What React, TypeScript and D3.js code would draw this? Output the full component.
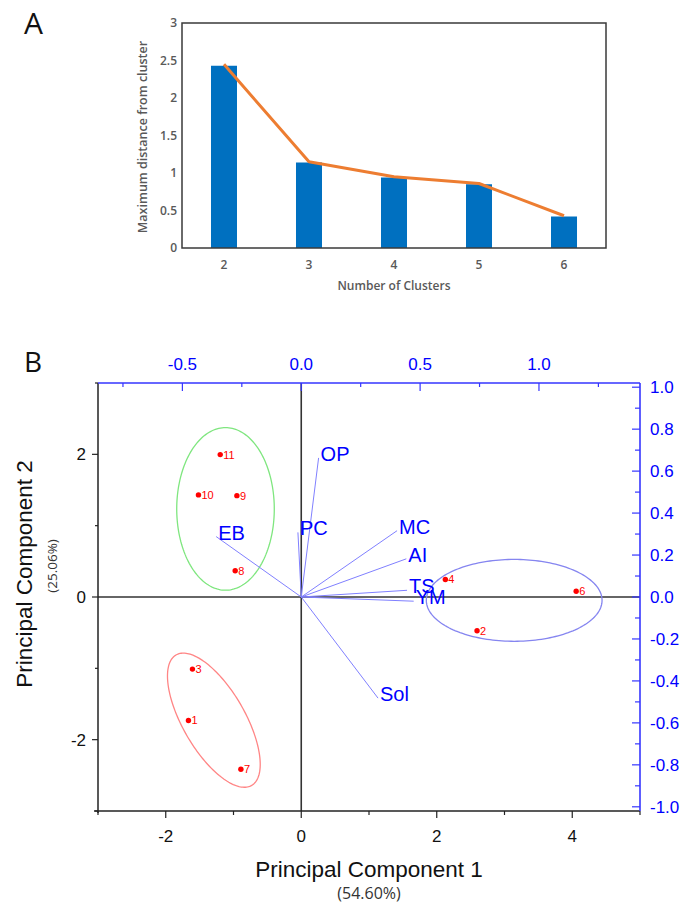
import React from "react";
import * as d3 from "d3";

// ---------- Panel A data ----------
const clusterCounts = ["2", "3", "4", "5", "6"];
const maxDistance = [2.43, 1.14, 0.94, 0.85, 0.42];
const trendValues = [2.45, 1.15, 0.95, 0.86, 0.43];
const distanceTicks = [0, 0.5, 1, 1.5, 2, 2.5, 3];

// ---------- Panel B data ----------
const sampleIds = ["1", "2", "3", "4", "6", "7", "8", "9", "10", "11"];
const pc1Scores = [-1.665, 2.595, -1.606, 2.127, 4.058, -0.891, -0.975, -0.95, -1.517, -1.196];
const pc2Scores = [-1.731, -0.474, -1.011, 0.246, 0.08, -2.414, 0.367, 1.421, 1.431, 1.996];

const variableNames = ["OP", "PC", "EB", "MC", "AI", "TS", "YM", "Sol"];
const loadingPC1 = [0.073, -0.014, -0.358, 0.403, 0.442, 0.445, 0.473, 0.323];
const loadingPC2 = [0.663, 0.308, 0.288, 0.316, 0.182, 0.032, -0.02, -0.482];

// cluster ellipses: centre, and two conjugate semi-axis vectors (score units)
const ellipseColors = ["#7fe67f", "#8585f0", "#ff8585"];
const ellipseCenterX = [-1.118, 3.143, -1.29];
const ellipseCenterY = [1.235, -0.047, -1.727];
const ellipseAxisA = [[0.72, 0], [1.297, 0], [0.559, -0.914]];
const ellipseAxisB = [[0, 1.14], [0, 0.574], [-0.395, -0.221]];

const scoreXMajor = [-2, 0, 2, 4];
const scoreXMinor = [-3, -1, 1, 3, 5];
const scoreYMajor = [-2, 0, 2];
const scoreYMinor = [-3, -1, 1, 3];
const loadXMajor = [-0.5, 0, 0.5, 1.0];
const loadXMinor = [-0.75, -0.25, 0.25, 0.75, 1.25];
const loadYMajor = [-1, -0.8, -0.6, -0.4, -0.2, 0, 0.2, 0.4, 0.6, 0.8, 1.0];
const loadYMinor = [-0.9, -0.7, -0.5, -0.3, -0.1, 0.1, 0.3, 0.5, 0.7, 0.9];

const fmt1 = (v: number) => (Math.abs(v) < 1e-9 ? 0 : v).toFixed(1);

export default function App() {
  // ----- Panel A -----
  const aL = 182, aR = 606, aT = 23, aB = 248;
  const xA = d3.scaleBand<string>().domain(clusterCounts).range([aL, aR]).paddingInner(0.694).paddingOuter(0.341);
  const yA = d3.scaleLinear().domain([0, 3]).range([aB, aT]);
  const lineA = d3
    .line<number>()
    .x((_, i) => (xA(clusterCounts[i]) as number) + xA.bandwidth() / 2)
    .y((d) => yA(d));
  const gA = "#595959";
  const fontA = "'Open Sans', 'Noto Sans', sans-serif";

  // ----- Panel B -----
  const bL = 98, bR = 640, bT = 383, bB = 811;
  const xS = d3.scaleLinear().domain([-3, 5]).range([bL, bR]);
  const yS = d3.scaleLinear().domain([-3, 3]).range([bB, bT]);
  const xL = d3.scaleLinear().domain([-0.855, 1.425]).range([bL, bR]);
  const yL = d3.scaleLinear().domain([-1.02, 1.02]).range([bB, bT]);
  const arial = "'Liberation Sans', Arial, sans-serif";
  const blueAxis = "#3535ff";
  const blueText = "#0000ff";

  const ellipsePath = (k: number) => {
    const ts = d3.range(0, 2 * Math.PI + 0.001, Math.PI / 90);
    const ln = d3
      .line<number>()
      .x((t) => xS(ellipseCenterX[k] + Math.cos(t) * ellipseAxisA[k][0] + Math.sin(t) * ellipseAxisB[k][0]))
      .y((t) => yS(ellipseCenterY[k] + Math.cos(t) * ellipseAxisA[k][1] + Math.sin(t) * ellipseAxisB[k][1]))
      .curve(d3.curveLinearClosed);
    return ln(ts) as string;
  };

  return (
    <svg width={693} height={912} style={{ position: "absolute", left: 0, top: 0, background: "#fff" }}>
      {/* ================= Panel A ================= */}
      <text x={24} y={34} fontFamily={fontA} fontSize={30} fill="#111">A</text>
      {clusterCounts.map((c, i) => (
        <rect key={c} x={xA(c)} y={yA(maxDistance[i])} width={xA.bandwidth()} height={aB - yA(maxDistance[i])} fill="#0070C0" />
      ))}
      <path d={lineA(trendValues) as string} fill="none" stroke="#ED7D31" strokeWidth={3} strokeLinejoin="round" />
      <rect x={aL} y={aT} width={aR - aL} height={aB - aT} fill="none" stroke="#3a3a3a" strokeWidth={1.5} />
      {distanceTicks.map((t) => (
        <text key={t} x={177} y={yA(t)} dy="0.35em" textAnchor="end" fontFamily={fontA} fontWeight={600} fontSize={12} fill={gA}>
          {t}
        </text>
      ))}
      {clusterCounts.map((c) => (
        <text key={c} x={(xA(c) as number) + xA.bandwidth() / 2} y={269} textAnchor="middle" fontFamily={fontA} fontWeight={600} fontSize={12} fill={gA}>
          {c}
        </text>
      ))}
      <text x={394} y={290} textAnchor="middle" fontFamily={fontA} fontWeight={600} fontSize={12} fill={gA}>
        Number of Clusters
      </text>
      <text transform={`translate(147,137) rotate(-90)`} textAnchor="middle" fontFamily={fontA} fontWeight={600} fontSize={12.5} fill={gA}>
        Maximum distance from cluster
      </text>

      {/* ================= Panel B ================= */}
      <text x={24} y={372} fontFamily={fontA} fontSize={28} fill="#111">B</text>

      {/* zero lines */}
      <line x1={bL} x2={bR} y1={yS(0)} y2={yS(0)} stroke="#333" strokeWidth={1.6} />
      <line x1={xS(0)} x2={xS(0)} y1={bT} y2={bB} stroke="#333" strokeWidth={1.6} />

      {/* ellipses */}
      {ellipseColors.map((c, k) => (
        <path key={k} d={ellipsePath(k)} fill="none" stroke={c} strokeWidth={1.3} />
      ))}

      {/* loading vectors */}
      {variableNames.map((v, i) => (
        <line key={v} x1={xL(0)} y1={yL(0)} x2={xL(loadingPC1[i])} y2={yL(loadingPC2[i])} stroke="#8080ff" strokeWidth={1} />
      ))}
      {variableNames.map((v, i) => (
        <text key={v} x={xL(loadingPC1[i]) + 2} y={yL(loadingPC2[i]) + 3} fontFamily={arial} fontSize={20} fill={blueText}>
          {v}
        </text>
      ))}

      {/* score points */}
      {sampleIds.map((s, i) => (
        <g key={s}>
          <circle cx={xS(pc1Scores[i])} cy={yS(pc2Scores[i])} r={2.7} fill="#ff0000" />
          <text x={xS(pc1Scores[i]) + 3} y={yS(pc2Scores[i])} dy="0.36em" fontFamily={arial} fontSize={11} fill="#ff0000">
            {s}
          </text>
        </g>
      ))}

      {/* left axis */}
      <line x1={bL} x2={bL} y1={bT} y2={bB + 2} stroke="#222" strokeWidth={1.5} />
      {scoreYMajor.map((t) => (
        <g key={t}>
          <line x1={bL - 6} x2={bL} y1={yS(t)} y2={yS(t)} stroke="#222" strokeWidth={1.2} />
          <text x={86} y={yS(t)} dy="0.35em" textAnchor="end" fontFamily={arial} fontSize={17} fill="#111">
            {t}
          </text>
        </g>
      ))}
      {scoreYMinor.map((t) => (
        <line key={t} x1={bL - 3} x2={bL} y1={yS(t)} y2={yS(t)} stroke="#222" strokeWidth={1.2} />
      ))}

      {/* bottom axis */}
      <line x1={bL - 4} x2={bR} y1={bB} y2={bB} stroke="#222" strokeWidth={1.5} />
      {scoreXMajor.map((t) => (
        <g key={t}>
          <line x1={xS(t)} x2={xS(t)} y1={bB} y2={bB + 7} stroke="#222" strokeWidth={1.2} />
          <text x={xS(t)} y={842} textAnchor="middle" fontFamily={arial} fontSize={17} fill="#111">
            {t}
          </text>
        </g>
      ))}
      {scoreXMinor.map((t) => (
        <line key={t} x1={xS(t)} x2={xS(t)} y1={bB} y2={bB + 4} stroke="#222" strokeWidth={1.2} />
      ))}

      {/* top axis (loadings) */}
      <line x1={bL} x2={bR} y1={bT} y2={bT} stroke={blueAxis} strokeWidth={1.6} />
      {loadXMajor.map((t) => (
        <g key={t}>
          <line x1={xL(t)} x2={xL(t)} y1={bT} y2={bT + 8} stroke={blueAxis} strokeWidth={1.2} />
          <text x={xL(t)} y={370} textAnchor="middle" fontFamily={arial} fontSize={17} fill={blueText}>
            {fmt1(t)}
          </text>
        </g>
      ))}
      {loadXMinor.map((t) => (
        <line key={t} x1={xL(t)} x2={xL(t)} y1={bT} y2={bT + 4} stroke={blueAxis} strokeWidth={1.2} />
      ))}

      {/* right axis (loadings) */}
      <line x1={bR} x2={bR} y1={bT} y2={bB} stroke={blueAxis} strokeWidth={1.6} />
      {loadYMajor.map((t) => (
        <g key={t}>
          <line x1={bR - 8} x2={bR} y1={yL(t)} y2={yL(t)} stroke={blueAxis} strokeWidth={1.2} />
          <text x={650} y={yL(t)} dy="0.35em" fontFamily={arial} fontSize={17} fill={blueText}>
            {fmt1(t)}
          </text>
        </g>
      ))}
      {loadYMinor.map((t) => (
        <line key={t} x1={bR - 5} x2={bR} y1={yL(t)} y2={yL(t)} stroke={blueAxis} strokeWidth={1.2} />
      ))}

      {/* axis titles */}
      <text x={369} y={877} textAnchor="middle" fontFamily={arial} fontSize={22.5} fill="#111">
        Principal Component 1
      </text>
      <text x={369} y={899} textAnchor="middle" fontFamily={fontA} fontSize={16} fill="#333">
        (54.60%)
      </text>
      <text transform={`translate(32,574) rotate(-90)`} textAnchor="middle" fontFamily={arial} fontSize={22.5} fill="#111">
        Principal Component 2
      </text>
      <text transform={`translate(57,566) rotate(-90)`} textAnchor="middle" fontFamily={fontA} fontSize={13.5} fill="#333">
        (25.06%)
      </text>
    </svg>
  );
}
